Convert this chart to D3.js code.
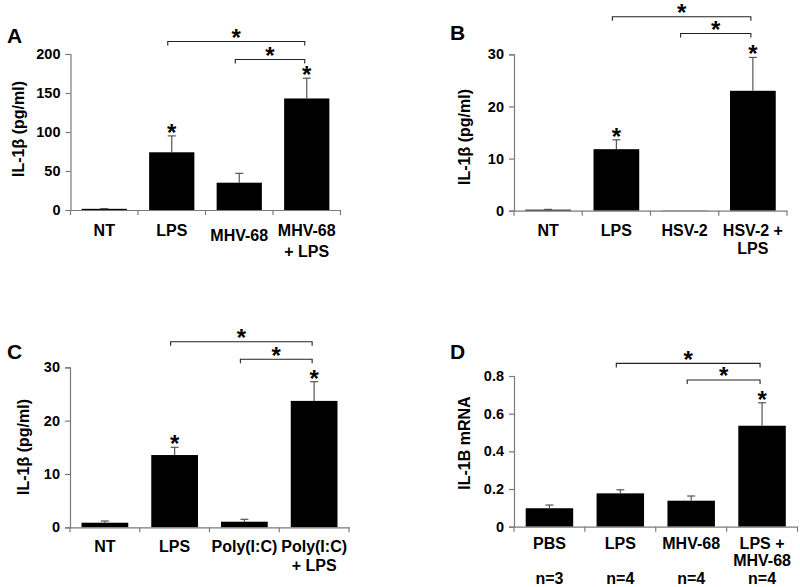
<!DOCTYPE html>
<html><head><meta charset="utf-8">
<script src="https://cdn.jsdelivr.net/npm/d3@7"></script>
<style>
html,body{margin:0;padding:0;background:#fff;}
svg text{font-family:Arial,"Liberation Sans",sans-serif;font-weight:bold;fill:#000;}
</style></head>
<body><svg id="chart" width="800" height="587"></svg>
<script>
// ---------- DATA ----------
// Panel A
const catsA = ["NT", "LPS", "MHV-68", "MHV-68|+ LPS"];
const valsA = [1.5, 74, 35, 143];
const errsA = [0.3, 21, 12, 26];
const sigA = [false, true, false, true];
const ticksA = [0, 50, 100, 150, 200];
const bracketsA = [[1, 3, 216], [2, 3, 193]];
// Panel B
const catsB = ["NT", "LPS", "HSV-2", "HSV-2 +|LPS"];
const valsB = [0.2, 11.8, 0.05, 23];
const errsB = [0.05, 1.8, 0, 6.4];
const sigB = [false, true, false, true];
const ticksB = [0, 10, 20, 30];
const bracketsB = [[1, 3, 37.2], [2, 3, 34.0]];
// Panel C
const catsC = ["NT", "LPS", "Poly(I:C)", "Poly(I:C)|+ LPS"];
const valsC = [0.86, 13.55, 1.05, 23.7];
const errsC = [0.32, 1.45, 0.45, 3.6];
const sigC = [false, true, false, true];
const ticksC = [0, 10, 20, 30];
const bracketsC = [[1, 3, 34.8], [2, 3, 31.5]];
// Panel D
const catsD = ["PBS", "LPS", "MHV-68", "LPS +|MHV-68"];
const valsD = [0.098, 0.177, 0.138, 0.536];
const errsD = [0.017, 0.019, 0.025, 0.122];
const sigD = [false, false, false, true];
const ticksD = [0, 0.2, 0.4, 0.6, 0.8];
const nD = ["n=3", "n=4", "n=4", "n=4"];
const bracketsD = [[1, 3, 0.867], [2, 3, 0.779]];

// ---------- LAYOUT ----------
const panels = [
  {letter:"A", lx:7, ly:43, cats:catsA, vals:valsA, errs:errsA, sig:sigA, ticks:ticksA, brackets:bracketsA,
   x0:70.5, x1:340.5, y0:210, y1:54, max:200, ylabel:"IL-1\u03b2 (pg/ml)", ylx:24, yly:129,
   labOff:26, lineGap:21, labShift:[0,0,5,0], fmt:d3.format("d")},
  {letter:"B", lx:450, ly:40, cats:catsB, vals:valsB, errs:errsB, sig:sigB, ticks:ticksB, brackets:bracketsB,
   x0:514, x1:787, y0:210.7, y1:54.3, max:30, ylabel:"IL-1\u03b2 (pg/ml)", ylx:470, yly:137,
   labOff:25, lineGap:18.5, labShift:[0,0,0,0], fmt:d3.format("d")},
  {letter:"C", lx:7, ly:359, cats:catsC, vals:valsC, errs:errsC, sig:sigC, ticks:ticksC, brackets:bracketsC,
   x0:70, x1:349, y0:527.3, y1:367.3, max:30, ylabel:"IL-1\u03b2 (pg/ml)", ylx:29, yly:447,
   labOff:25, lineGap:18.5, labShift:[0,0,0,0], fmt:d3.format("d")},
  {letter:"D", lx:450, ly:359, cats:catsD, vals:valsD, errs:errsD, sig:sigD, ticks:ticksD, brackets:bracketsD,
   x0:514, x1:797.5, y0:526.7, y1:376, max:0.8, ylabel:"IL-1B mRNA", ylx:470, yly:443,
   labOff:22, lineGap:17, labShift:[0,0,0,0], fmt:d => d === 0 ? "0" : d3.format(".1f")(d), nLabels:nD}
];

const svg = d3.select("#chart");
const AXIS = "#7a7a7a";

panels.forEach(p => {
  const g = svg.append("g");
  const idx = d3.range(p.cats.length);
  const x = d3.scaleBand().domain(idx).range([p.x0, p.x1]).padding(0);
  const y = d3.scaleLinear().domain([0, p.max]).range([p.y0, p.y1]);
  const bw = x.bandwidth() * 0.67;
  const cx = i => x(i) + x.bandwidth() / 2;

  // panel letter
  g.append("text").attr("x", p.lx).attr("y", p.ly).attr("font-size", 21).text(p.letter);

  // y axis
  const yAxis = d3.axisLeft(y).tickValues(p.ticks).tickFormat(p.fmt).tickSize(5).tickPadding(5);
  const ya = g.append("g").attr("transform", `translate(${p.x0},0)`).call(yAxis);
  ya.select(".domain").attr("stroke", AXIS).attr("stroke-width", 1.2);
  ya.selectAll(".tick line").attr("stroke", AXIS).attr("stroke-width", 1.2);
  ya.selectAll(".tick text").attr("font-size", 14.5).attr("font-family", "Arial, 'Liberation Sans', sans-serif").attr("font-weight", "bold").attr("fill", "#000");

  // y label
  g.append("text").attr("transform", `translate(${p.ylx},${p.yly}) rotate(-90)`)
    .attr("text-anchor", "middle").attr("font-size", 16).text(p.ylabel);

  // bars
  g.selectAll("rect.bar").data(p.vals).join("rect")
    .attr("x", (d, i) => cx(i) - bw / 2).attr("width", bw)
    .attr("y", d => y(d)).attr("height", d => Math.max(0, y(0) - y(d)))
    .attr("fill", "#000");

  // error bars (upper only)
  p.vals.forEach((v, i) => {
    if (p.errs[i] <= 0) return;
    const top = y(v + p.errs[i]);
    g.append("line").attr("x1", cx(i)).attr("x2", cx(i)).attr("y1", y(v)).attr("y2", top)
      .attr("stroke", "#555").attr("stroke-width", 1.2);
    g.append("line").attr("x1", cx(i) - 4).attr("x2", cx(i) + 4).attr("y1", top).attr("y2", top)
      .attr("stroke", "#555").attr("stroke-width", 1.2);
  });

  // x axis
  const xa = d3.axisBottom(x).tickSize(0).tickFormat("");
  const xg = g.append("g").attr("transform", `translate(0,${p.y0})`).call(xa);
  xg.select(".domain").attr("stroke", AXIS).attr("stroke-width", 1.2);
  xg.selectAll(".tick").remove();
  const bounds = idx.map(i => x(i)).concat([p.x1]);
  g.selectAll("line.xt").data(bounds).join("line")
    .attr("x1", d => d).attr("x2", d => d).attr("y1", p.y0).attr("y2", p.y0 + 5)
    .attr("stroke", AXIS).attr("stroke-width", 1.2);

  // category labels
  p.cats.forEach((c, i) => {
    const t = g.append("text").attr("text-anchor", "middle").attr("font-size", 16)
      .attr("x", cx(i)).attr("y", p.y0 + p.labOff + p.labShift[i]);
    c.split("|").forEach((s, k) => {
      t.append("tspan").attr("x", cx(i)).attr("dy", k === 0 ? 0 : p.lineGap).text(s);
    });
  });
  if (p.nLabels) {
    p.nLabels.forEach((s, i) => {
      g.append("text").attr("text-anchor", "middle").attr("font-size", 16)
        .attr("x", cx(i)).attr("y", p.y0 + 57).text(s);
    });
  }

  // significance stars over bars
  p.sig.forEach((s, i) => {
    if (!s) return;
    const top = y(p.vals[i] + p.errs[i]);
    g.append("text").attr("text-anchor", "middle").attr("font-size", 24)
      .attr("x", cx(i)).attr("y", top + 5).text("*");
  });

  // brackets
  p.brackets.forEach(([a, b, lvl]) => {
    const by = y(lvl), xa1 = cx(a) - 4, xb1 = cx(b) - 2;
    g.append("path").attr("d", `M${xa1},${by + 4}V${by}H${xb1}V${by + 4}`)
      .attr("fill", "none").attr("stroke", "#222").attr("stroke-width", 1.1);
    g.append("text").attr("text-anchor", "middle").attr("font-size", 24)
      .attr("x", (xa1 + xb1) / 2).attr("y", by + 4.5).text("*");
  });
});
</script></body></html>
